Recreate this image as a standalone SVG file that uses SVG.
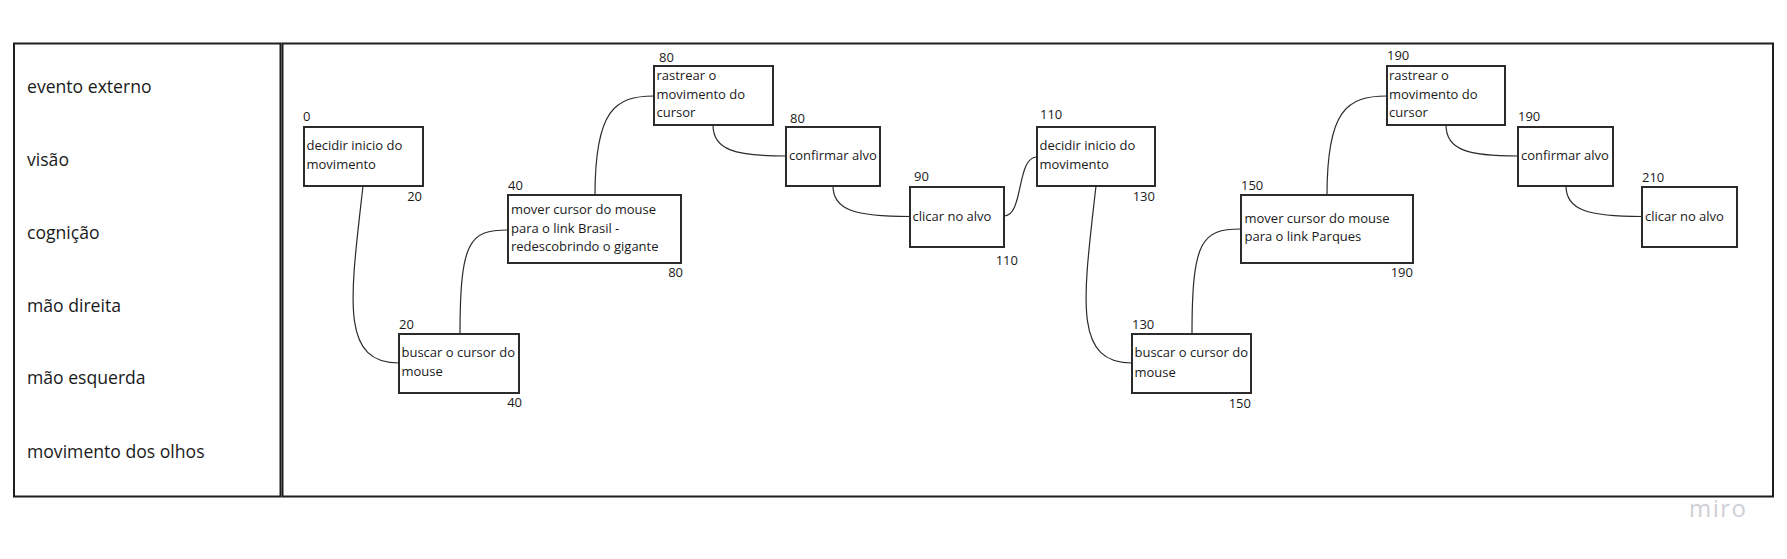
<svg xmlns="http://www.w3.org/2000/svg" width="1787" height="559" viewBox="0 0 1787 559">
<style>
.frame{fill:#fff;stroke:#1e1e1e;stroke-width:2}
.box{fill:#fff;stroke:#2b2b2b;stroke-width:2}
.lane{font-family:"Open Sans","DejaVu Sans",sans-serif;font-size:17.6px;fill:#1a1a1a}
.t{font-family:"Open Sans","DejaVu Sans",sans-serif;font-size:13px;fill:#1a1a1a}
.n{font-family:"Open Sans","DejaVu Sans",sans-serif;font-size:13px;fill:#1a1a1a}
.e{text-anchor:end}
.c{fill:none;stroke:#2b2b2b;stroke-width:1.2}
</style>
<rect width="1787" height="559" fill="#fff"/>
<g id="lanes">
<rect class="frame" x="14" y="43.5" width="266.5" height="453"/>
<rect class="frame" x="282.5" y="43.5" width="1490.5" height="453"/>
<text class="lane" x="27" y="92.5">evento externo</text>
<text class="lane" x="27" y="165.5">visão</text>
<text class="lane" x="27" y="238.5">cognição</text>
<text class="lane" x="27" y="311.5">mão direita</text>
<text class="lane" x="27" y="384">mão esquerda</text>
<text class="lane" x="27" y="457.5">movimento dos olhos</text>
</g>
<g id="connectors">
<path class="c" d="M363,186 C350,300 340,363 399,363"/>
<path class="c" d="M460,334 C460,240 470,230 508,230"/>
<path class="c" d="M595,195 C595,110 615,96 654,96"/>
<path class="c" d="M713,125 C713,150 735,156 786,156"/>
<path class="c" d="M833,186 C833,210 855,216.5 910,216.5"/>
<path class="c" d="M1004,216 C1024,216 1016,157 1037,157"/>
<path class="c" d="M1096,186 C1083,300 1073,363 1132,363"/>
<path class="c" d="M1192,334 C1192,240 1202,229 1241,229"/>
<path class="c" d="M1327,195 C1327,110 1347,96 1387,96"/>
<path class="c" d="M1446,125 C1446,150 1468,156 1518,156"/>
<path class="c" d="M1566,186 C1566,210 1588,216.5 1642,216.5"/>
</g>
<g id="n1">
<rect class="box" x="304" y="127" width="119" height="59"/>
<text class="n" x="303" y="121">0</text>
<text class="n e" x="422" y="201">20</text>
<text class="t" x="306.5" y="150">decidir inicio do</text>
<text class="t" x="306.5" y="168.7">movimento</text>
</g>
<g id="n2">
<rect class="box" x="399" y="334" width="120" height="59"/>
<text class="n" x="399" y="329">20</text>
<text class="n e" x="522" y="407">40</text>
<text class="t" x="401.5" y="357.3">buscar o cursor do</text>
<text class="t" x="401.5" y="376">mouse</text>
</g>
<g id="n3">
<rect class="box" x="508" y="195" width="173" height="68"/>
<text class="n" x="508" y="190">40</text>
<text class="n e" x="683" y="277">80</text>
<text class="t" x="511" y="214">mover cursor do mouse</text>
<text class="t" x="511" y="232.7">para o link Brasil -</text>
<text class="t" x="511" y="251.3">redescobrindo o gigante</text>
</g>
<g id="n4">
<rect class="box" x="654" y="66" width="119" height="59"/>
<text class="n" x="659" y="62">80</text>
<text class="t" x="656.5" y="80">rastrear o</text>
<text class="t" x="656.5" y="99.3">movimento do</text>
<text class="t" x="656.5" y="117.3">cursor</text>
</g>
<g id="n5">
<rect class="box" x="786" y="127" width="94" height="59"/>
<text class="n" x="790" y="123">80</text>
<text class="t" x="789" y="160">confirmar alvo</text>
</g>
<g id="n6">
<rect class="box" x="910" y="187" width="94" height="60"/>
<text class="n" x="914" y="181">90</text>
<text class="n e" x="1018" y="265">110</text>
<text class="t" x="912.5" y="220.7">clicar no alvo</text>
</g>
<g id="n7">
<rect class="box" x="1037" y="127" width="118" height="59"/>
<text class="n" x="1040" y="119">110</text>
<text class="n e" x="1155" y="201">130</text>
<text class="t" x="1039.5" y="150">decidir inicio do</text>
<text class="t" x="1039.5" y="168.7">movimento</text>
</g>
<g id="n8">
<rect class="box" x="1132" y="334" width="119" height="59"/>
<text class="n" x="1132" y="329">130</text>
<text class="n e" x="1251" y="408">150</text>
<text class="t" x="1134.5" y="357.3">buscar o cursor do</text>
<text class="t" x="1134.5" y="376.5">mouse</text>
</g>
<g id="n9">
<rect class="box" x="1241" y="195" width="172" height="68"/>
<text class="n" x="1241" y="190">150</text>
<text class="n e" x="1413" y="277">190</text>
<text class="t" x="1244.5" y="222.7">mover cursor do mouse</text>
<text class="t" x="1244.5" y="241.3">para o link Parques</text>
</g>
<g id="n10">
<rect class="box" x="1387" y="66" width="118" height="59"/>
<text class="n" x="1387" y="60">190</text>
<text class="t" x="1389" y="80">rastrear o</text>
<text class="t" x="1389" y="99.3">movimento do</text>
<text class="t" x="1389" y="117.3">cursor</text>
</g>
<g id="n11">
<rect class="box" x="1518" y="127" width="95" height="59"/>
<text class="n" x="1518" y="121">190</text>
<text class="t" x="1521" y="160">confirmar alvo</text>
</g>
<g id="n12">
<rect class="box" x="1642" y="187" width="95" height="60"/>
<text class="n" x="1642" y="182">210</text>
<text class="t" x="1645" y="220.7">clicar no alvo</text>
</g>
<text x="1689" y="517" font-family="'Open Sans','Noto Sans',sans-serif" font-size="24" fill="#cfcfd6" letter-spacing="1.5">miro</text>
</svg>
